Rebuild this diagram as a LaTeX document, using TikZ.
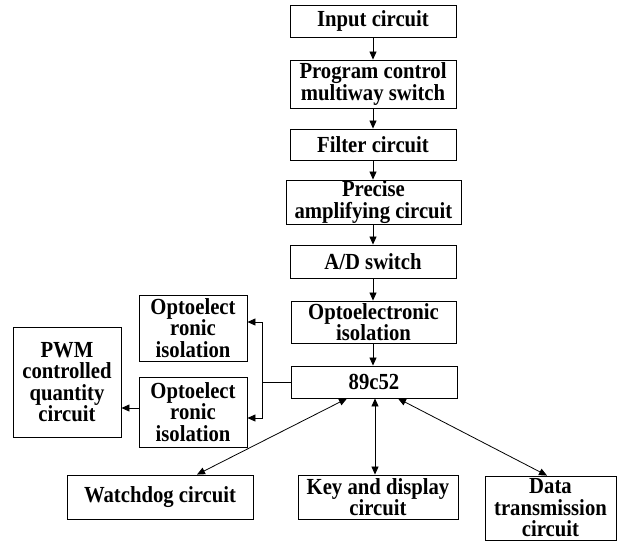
\documentclass[tikz,border=0pt]{standalone}
\usepackage{fontspec}
\setmainfont{Liberation Serif}[FakeStretch=0.9]
\usetikzlibrary{arrows.meta}
\begin{document}
\begin{tikzpicture}[x=1pt,y=-1pt,
  box/.style={draw, line width=0.9pt, inner sep=0pt, align=center,
    font=\fontsize{23}{21.5}\selectfont\bfseries},
  arr/.style={line width=0.8pt, -{Triangle[length=8pt,width=7pt]}},
  darr/.style={line width=0.8pt, {Triangle[length=8pt,width=7pt]}-{Triangle[length=8pt,width=7pt]}},
  ln/.style={line width=0.8pt}]
\useasboundingbox (0,0) rectangle (618,541);
\node[box, minimum width=166pt, minimum height=32pt] (in) at (373,21) {Input circuit};
\node[box, minimum width=166pt, minimum height=48pt] (prog) at (373,84) {Program control\\multiway switch};
\node[box, minimum width=166pt, minimum height=31pt] (filt) at (373,144.5) {Filter circuit};
\node[box, minimum width=175pt, minimum height=44pt] (prec) at (373.5,202) {Precise\\amplifying circuit};
\node[box, minimum width=166pt, minimum height=33pt] (ad) at (373,261.5) {A/D switch};
\node[box, minimum width=165pt, minimum height=42pt] (opto) at (373.5,322) {Optoelectronic\\isolation};
\node[box, minimum width=166pt, minimum height=32pt] (mcu) at (374,382) {89c52};
\node[box, minimum width=108pt, minimum height=66pt] (optA) at (193,328) {Optoelect\\ronic\\isolation};
\node[box, minimum width=108pt, minimum height=70pt] (optB) at (193,412) {Optoelect\\ronic\\isolation};
\node[box, minimum width=108pt, minimum height=110pt] (pwm) at (67,382) {PWM\\controlled\\quantity\\circuit};
\node[box, minimum width=186pt, minimum height=44pt] (wd) at (160,497) {Watchdog circuit};
\node[box, minimum width=160pt, minimum height=44pt] (key) at (378,497) {Key and display\\circuit};
\node[box, minimum width=131pt, minimum height=64pt] (data) at (550.5,508) {Data\\transmission\\circuit};
\draw[arr] (in.south) -- (in.south |- prog.north);
\draw[arr] (prog.south) -- (prog.south |- filt.north);
\draw[arr] (filt.south) -- (filt.south |- prec.north);
\draw[arr] (ad.north |- prec.south) -- (ad.north);
\draw[arr] (ad.south) -- (ad.south |- opto.north);
\draw[arr] (opto.south -| ad.south) -- (ad.south |- mcu.north);
\coordinate (j) at (262,382);
\draw[ln] (mcu.west) -- (j);
\draw[arr] (j) |- (optA.east |- 0,322);
\draw[arr] (j) |- (optB.east |- 0,418);
\draw[arr] (optB.west |- 0,408) -- (pwm.east |- 0,408);
\draw[darr] (mcu.south -| 347,0) -- (wd.north -| 197,0);
\draw[darr] (mcu.south -| 375,0) -- (key.north -| 375,0);
\draw[darr] (mcu.south -| 398,0) -- (data.north -| 547,0);
\end{tikzpicture}
\end{document}
